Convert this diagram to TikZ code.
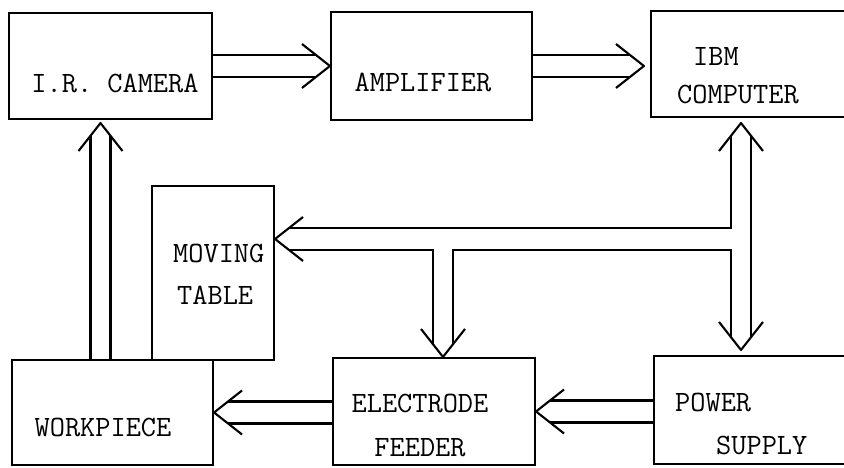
\documentclass[tikz,border=0pt]{standalone}
\usepackage{fontspec}
\usetikzlibrary{calc}

\newcommand{\lbl}{\ttfamily\frenchspacing\fontsize{29.5}{42}\selectfont}

\begin{document}
\begin{tikzpicture}[x=1pt,y=1pt,
  blk/.style={draw,line width=2.1pt,inner sep=0pt},
  txt/.style={font=\lbl,inner sep=0pt,align=left},
  pipe/.style={line width=2.1pt},
  vee/.pic={\draw[pipe,line join=round] (-28,22) -- (0,0) -- (-28,-22);}]
\useasboundingbox (0,0) rectangle (844,468);

% blocks
\node[blk,minimum width=203pt,minimum height=106pt] (cam)  at (110.5,402) {};
\node[blk,minimum width=201pt,minimum height=108pt] (amp)  at (431.5,402) {};
\node[blk,minimum width=200pt,minimum height=106pt] (ibm)  at (751,404) {};
\node[blk,minimum width=122pt,minimum height=174pt] (tbl)  at (213,195) {};
\node[blk,minimum width=201pt,minimum height=105pt] (work) at (112.5,55.5) {};
\node[blk,minimum width=202pt,minimum height=107pt] (elec) at (434,56.5) {};
\node[blk,minimum width=198pt,minimum height=108pt] (ps)   at (753,58) {};

% labels
\node[txt] (cam-l)  at (115,385) {I.R. CAMERA};
\node[txt] (amp-l)  at (423,386) {AMPLIFIER};
\node[txt,anchor=west] (ibm-l) at (677,392) {\hspace*{16pt}IBM\\[-4pt]COMPUTER};
\node[txt,anchor=west] (tbl-l) at (173,194) {MOVING\\\hspace*{4pt}TABLE};
\node[txt] (work-l) at (103,41) {WORKPIECE};
\node[txt,align=center] (elec-l) at (420,43) {ELECTRODE\\[2pt]FEEDER};
\node[txt,anchor=west] (ps-l) at (675,44.5) {POWER\\[1pt]\hspace*{41pt}SUPPLY};

% camera -> amplifier
\draw[pipe] ($(cam.east)+(0,11)$) -- ($(amp.west)+(-14,11)$);
\draw[pipe] ($(cam.east)+(0,-11)$) -- ($(amp.west)+(-14,-11)$);
\pic at (amp.west) {vee};

% amplifier -> computer
\coordinate (t2) at ($(amp.east -| ibm.west)+(-6,0)$);
\draw[pipe] ($(amp.east)+(0,11)$) -- ($(t2)+(-14,11)$);
\draw[pipe] ($(amp.east)+(0,-11)$) -- ($(t2)+(-14,-11)$);
\pic at (t2) {vee};

% workpiece -> camera
\coordinate (t3) at ($(cam.south)+(-10,-3)$);
\draw[pipe] ($(t3 |- work.north)+(-10,0)$) -- ($(t3)+(-10,-13)$);
\draw[pipe] ($(t3 |- work.north)+(10,0)$) -- ($(t3)+(10,-13)$);
\pic[rotate=90] at (t3) {vee};

% electrode feeder -> workpiece
\draw[pipe] ($(elec.west |- work.east)+(0,11)$) -- ($(work.east)+(14,11)$);
\draw[pipe] ($(elec.west |- work.east)+(0,-11)$) -- ($(work.east)+(14,-11)$);
\pic[rotate=180] at (work.east) {vee};

% power supply -> electrode feeder
\draw[pipe] ($(ps.west |- elec.east)+(0,11)$) -- ($(elec.east)+(14,11)$);
\draw[pipe] ($(ps.west |- elec.east)+(0,-11)$) -- ($(elec.east)+(14,-11)$);
\pic[rotate=180] at (elec.east) {vee};

% computer <-> power supply, with branches to table and feeder
\coordinate (top)  at ($(ibm.south)+(-10,-5)$);
\coordinate (bot)  at ($(top |- ps.north)+(0,5)$);
\coordinate (bus)  at (741,229);
\coordinate (drop) at (443,229);
\draw[pipe] ($(top)+(-10,-13)$) |- ($(tbl.east |- bus)+(14,11)$);
\draw[pipe] ($(tbl.east |- bus)+(14,-11)$) -| ($(drop |- elec.north)+(-10,13)$);
\draw[pipe] ($(drop |- elec.north)+(10,13)$) |- ($(bus)+(-10,-11)$) -- ($(bot)+(-10,13)$);
\draw[pipe] ($(top)+(10,-13)$) -- ($(bot)+(10,13)$);
\pic[rotate=90] at (top) {vee};
\pic[rotate=-90] at (bot) {vee};
\pic[rotate=180] at (tbl.east |- bus) {vee};
\pic[rotate=-90] at (drop |- elec.north) {vee};
\end{tikzpicture}
\end{document}
